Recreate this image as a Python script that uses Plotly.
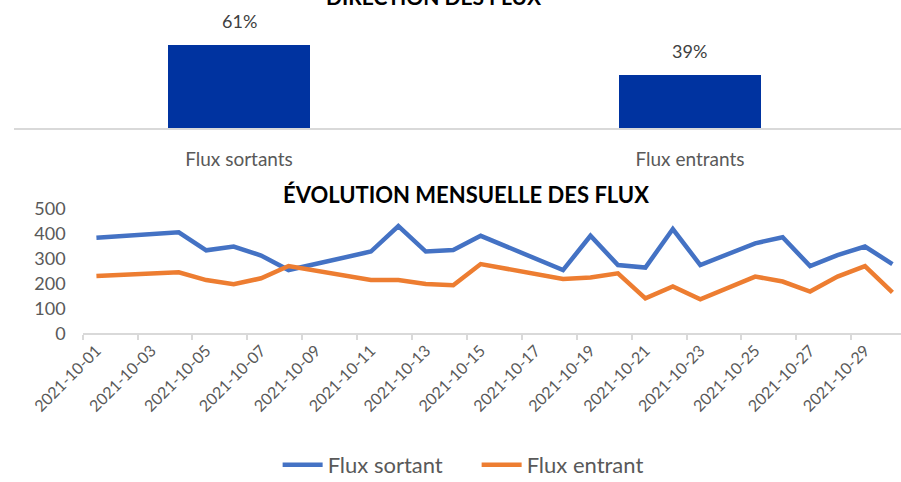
import datetime as dt
import plotly.graph_objects as go

# --- data -------------------------------------------------------------
direction_cats = ["Flux sortants", "Flux entrants"]
direction_pct = [61, 39]

dates = [
    "2021-10-01", "2021-10-04", "2021-10-05", "2021-10-06", "2021-10-07",
    "2021-10-08", "2021-10-11", "2021-10-12", "2021-10-13", "2021-10-14",
    "2021-10-15", "2021-10-18", "2021-10-19", "2021-10-20", "2021-10-21",
    "2021-10-22", "2021-10-23", "2021-10-25", "2021-10-26", "2021-10-27",
    "2021-10-28", "2021-10-29", "2021-10-30",
]
flux_sortant = [382, 404, 332, 347, 311, 253, 327, 429, 327, 333, 390, 253,
                390, 273, 263, 417, 273, 360, 384, 269, 313, 347, 277]
flux_entrant = [229, 244, 213, 196, 220, 269, 213, 213, 197, 192, 277, 217,
                223, 240, 140, 187, 136, 227, 207, 167, 227, 269, 164]

tick_labels = [
    "2021-10-01", "2021-10-03", "2021-10-05", "2021-10-07", "2021-10-09",
    "2021-10-11", "2021-10-13", "2021-10-15", "2021-10-17", "2021-10-19",
    "2021-10-21", "2021-10-23", "2021-10-25", "2021-10-27", "2021-10-29",
]

FONT = "Lato"
GREY = "#595959"
AXIS = "#D9D9D9"

fig = go.Figure()

# --- top: direction des flux -----------------------------------------
fig.add_trace(go.Bar(
    x=direction_cats, y=direction_pct,
    marker=dict(color="#0033A0", line=dict(width=0)),
    width=0.315, showlegend=False, hoverinfo="skip",
    xaxis="x", yaxis="y",
))
for cat, val in zip(direction_cats, direction_pct):
    fig.add_annotation(
        x=cat, y=val, xref="x", yref="y", text=f"{val}%",
        showarrow=False, yanchor="bottom", yshift=11,
        font=dict(family=FONT, size=18, color="#404040"),
    )

# title sits mostly above the top edge, as in the source image
fig.add_annotation(
    x=0.482, y=1.008, xref="paper", yref="paper",
    text="<b>DIRECTION DES FLUX</b>", showarrow=False,
    xanchor="center", yanchor="middle",
    font=dict(family=FONT, size=21, color="#000000"),
)

# --- bottom: évolution mensuelle -------------------------------------
fig.add_trace(go.Scatter(
    x=dates, y=flux_sortant, name="Flux sortant", mode="lines",
    line=dict(color="#4472C4", width=4.5), connectgaps=True,
    xaxis="x2", yaxis="y2",
))
fig.add_trace(go.Scatter(
    x=dates, y=flux_entrant, name="Flux entrant", mode="lines",
    line=dict(color="#ED7D31", width=4.5), connectgaps=True,
    xaxis="x2", yaxis="y2",
))

fig.add_annotation(
    x=0.517, y=0.597, xref="paper", yref="paper",
    text="<b>ÉVOLUTION MENSUELLE DES FLUX</b>", showarrow=False,
    xanchor="center", yanchor="middle",
    font=dict(family=FONT, size=22, color="#000000"),
)

# tick marks sit between days, labels on the day itself
half_day = dt.timedelta(hours=12)
minor_ticks = [
    (dt.datetime.strptime(t, "%Y-%m-%d") - half_day).strftime("%Y-%m-%d %H:%M")
    for t in tick_labels
]

fig.update_layout(
    width=901, height=482,
    margin=dict(l=0, r=0, t=0, b=0, autoexpand=False),
    plot_bgcolor="white", paper_bgcolor="white",
    font=dict(family=FONT, color=GREY),
    bargap=0,
    xaxis=dict(
        domain=[14 / 901, 1.0], range=[-0.499, 1.468],
        showline=True, linecolor=AXIS, linewidth=1.5,
        showgrid=False, zeroline=False, ticks="",
        tickfont=dict(family=FONT, size=19, color=GREY),
        ticklabelstandoff=13, automargin=False,
    ),
    yaxis=dict(
        domain=[(482 - 128) / 482, 1.0], range=[0, 94.1],
        visible=False, showgrid=False, zeroline=False, automargin=False,
    ),
    xaxis2=dict(
        domain=[82.7 / 901, 1.0],
        range=["2021-09-30 12:00", "2021-10-30 07:30"],
        type="date", anchor="y2", automargin=False,
        showline=True, linecolor=AXIS, linewidth=1.5,
        showgrid=False, zeroline=False,
        tickmode="array", tickvals=tick_labels, ticktext=tick_labels,
        ticks="", tickangle=-45,
        tickfont=dict(family=FONT, size=16, color=GREY),
        minor=dict(tickmode="array", tickvals=minor_ticks, ticks="outside",
                   ticklen=5, tickcolor=AXIS, tickwidth=1.5, showgrid=False),
    ),
    yaxis2=dict(
        domain=[(482 - 333.3) / 482, (482 - 208.3) / 482],
        range=[0, 500], anchor="x2", dtick=100, automargin=False,
        showline=False, showgrid=False, zeroline=False,
        tickfont=dict(family=FONT, size=18, color=GREY),
        ticklabelstandoff=16,
    ),
    legend=dict(
        orientation="h", x=0.529, xanchor="center", y=-0.008, yanchor="bottom",
        font=dict(family=FONT, size=22, color=GREY),
        itemwidth=40, entrywidth=144,
    ),
)

fig.write_html("out.html", config={"displayModeBar": False},
               post_script="document.body.style.margin = '0';")
